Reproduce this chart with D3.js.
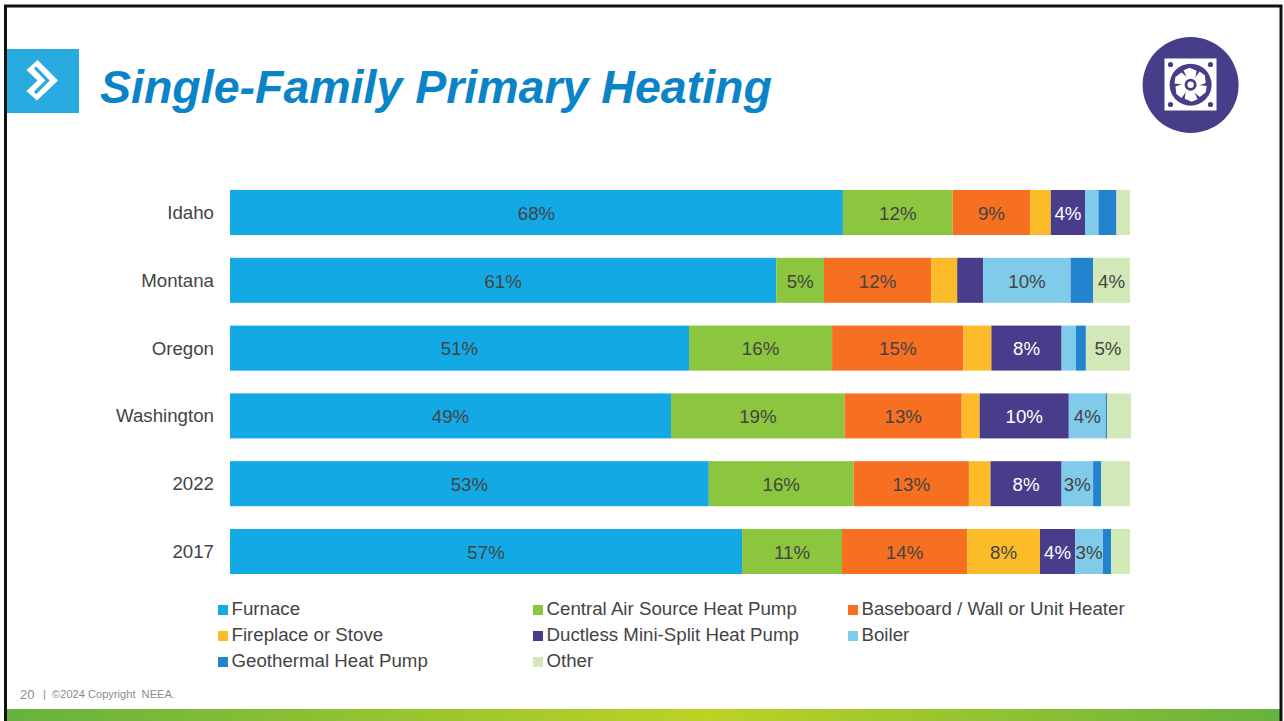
<!DOCTYPE html>
<html><head><meta charset="utf-8">
<script src="https://cdn.jsdelivr.net/npm/d3@7/dist/d3.min.js"></script>
<style>html,body{margin:0;padding:0;background:#fff;overflow:hidden}svg{display:block}text{font-family:"Liberation Sans",Arial,sans-serif}</style>
</head><body><svg id="c" width="1284" height="721"></svg>
<script>
const categories = ["Idaho","Montana","Oregon","Washington","2022","2017"];
const seriesNames = ["Furnace","Central Air Source Heat Pump","Baseboard / Wall or Unit Heater","Fireplace or Stove","Ductless Mini-Split Heat Pump","Boiler","Geothermal Heat Pump","Other"];
const furnace   = [68.1,60.7,51.0,49.0,53.2,56.9];
const airSource = [12.2, 5.3,15.9,19.3,16.1,11.1];
const baseboard = [ 8.6,11.9,14.6,13.0,12.8,13.9];
const fireplace = [ 2.3, 2.9, 3.1, 2.0, 2.4, 8.1];
const ductless  = [ 3.8, 2.9, 7.8, 9.9, 7.9, 3.9];
const boiler    = [ 1.5, 9.7, 1.6, 4.1, 3.5, 3.1];
const geothermal= [ 2.0, 2.5, 1.1, 0.15,0.9, 0.9];
const other     = [ 1.5, 4.1, 4.9, 2.65,3.2, 2.1];
const labels = [
  ["68%","61%","51%","49%","53%","57%"],
  ["12%","5%","16%","19%","16%","11%"],
  ["9%","12%","15%","13%","13%","14%"],
  ["","","","","","8%"],
  ["4%","","8%","10%","8%","4%"],
  ["","10%","","4%","3%","3%"],
  ["","","","","",""],
  ["","4%","5%","","",""]
];
const allSeries = [furnace,airSource,baseboard,fireplace,ductless,boiler,geothermal,other];
const colors = ["#12a9e5","#8cc63f","#f76f20","#fcbb29","#483d8b","#80cbea","#2284cf","#d2e8b7"];
const labelColors = ["#444444","#444444","#444444","#444444","#ffffff","#444444","#444444","#444444"];
const gradientStops = [["0%","#66b23f"],["55%","#bdd225"],["100%","#66b23f"]];
const titleText = "Single-Family Primary Heating";
const footerPage = "20";
const footerText = "|  ©2024 Copyright  NEEA.";

const svg = d3.select("#c");
const defs = svg.append("defs");
const grad = defs.append("linearGradient").attr("id","band");
grad.selectAll("stop").data(gradientStops).join("stop").attr("offset",d=>d[0]).attr("stop-color",d=>d[1]);

// slide furniture
svg.append("rect").attr("x",6).attr("y",709).attr("width",1275).attr("height",12).attr("fill","url(#band)");
svg.append("rect").attr("x",5.5).attr("y",6).attr("width",1275.5).attr("height",720).attr("fill","none").attr("stroke","#111").attr("stroke-width",3);

// logo
svg.append("rect").attr("x",7).attr("y",49).attr("width",72).attr("height",64).attr("fill","#29abe2");
svg.append("path").attr("d","M37.5 60 L58 80.5 L37 100.5 L26.5 91 L37.5 80.5 L26.5 70 Z").attr("fill","#fff");
svg.append("path").attr("d","M35 67.5 L47.5 80.5 L35 93").attr("fill","none").attr("stroke","#29abe2").attr("stroke-width",3.2);

// icon
const iconX = 1190.6, iconY = 84.7;
svg.append("circle").attr("cx",iconX).attr("cy",85).attr("r",48).attr("fill","#473e8a");
svg.append("rect").attr("x",1164.5).attr("y",58.5).attr("width",52).attr("height",52).attr("fill","#fff");
svg.append("circle").attr("cx",iconX).attr("cy",iconY).attr("r",21).attr("fill","#473e8a");
[[1170.5,64.5],[1210.5,64.5],[1170.5,104.5],[1210.5,104.5]].forEach(p=>svg.append("circle").attr("cx",p[0]).attr("cy",p[1]).attr("r",2.6).attr("fill","#473e8a"));
d3.range(6).forEach(i=>svg.append("path").attr("d","M-2 -3 L-7 -14.5 L-1 -17 L6 -14 L4 -3 Z").attr("fill","#fff").attr("transform",`translate(${iconX},${iconY}) rotate(${i*60})`));
svg.append("circle").attr("cx",iconX).attr("cy",iconY).attr("r",6).attr("fill","#473e8a");
svg.append("circle").attr("cx",iconX).attr("cy",iconY).attr("r",3.2).attr("fill","#fff");

// title
svg.append("text").attr("x",100).attr("y",103).attr("font-size",46.5).attr("font-weight","bold").attr("font-style","italic").attr("fill","#0a84c6").text(titleText);

// scales
const x = d3.scaleLinear().domain([0,100]).range([230,1130]);
const y = d3.scaleBand().domain(categories).range([190,574]).paddingInner(0.336);

// category axis
const axis = svg.append("g").attr("transform","translate(230,0.5)").call(d3.axisLeft(y).tickSize(0).tickPadding(16));
axis.select(".domain").remove();
axis.selectAll("text").attr("font-size",18.7).attr("fill","#444444").style("font-family",'"Liberation Sans",Arial,sans-serif');

// stacks
const rows = categories.map((c,i)=>{const o={cat:c};seriesNames.forEach((s,j)=>o[s]=allSeries[j][i]);return o;});
const stacked = d3.stack().keys(seriesNames)(rows);
stacked.forEach((layer,j)=>{
  const g = svg.append("g").attr("fill",colors[j]);
  g.selectAll("rect").data(layer).join("rect")
    .attr("x",d=>x(d[0])).attr("width",d=>x(d[1])-x(d[0]))
    .attr("y",d=>y(d.data.cat)).attr("height",y.bandwidth());
});
stacked.forEach((layer,j)=>{
  svg.append("g").selectAll("text").data(layer).join("text")
    .attr("x",d=>(x(d[0])+x(d[1]))/2)
    .attr("y",d=>y(d.data.cat)+y.bandwidth()/2+7.2)
    .attr("text-anchor","middle").attr("font-size",18.7).attr("fill",labelColors[j])
    .text((d,i)=>labels[j][i]);
});

// legend
const legendX = d3.scalePoint().domain([0,1,2]).range([218,848]);
const legendY = d3.scalePoint().domain([0,1,2]).range([609,661]);
const leg = svg.append("g").selectAll("g").data(seriesNames).join("g")
  .attr("transform",(d,i)=>`translate(${legendX(i%3)},${legendY(Math.floor(i/3))})`);
leg.append("rect").attr("x",0).attr("y",-4).attr("width",10).attr("height",10).attr("fill",(d,i)=>colors[i]);
leg.append("text").attr("x",13.5).attr("y",6).attr("font-size",18.7).attr("fill","#444444").text(d=>d);

// footer
svg.append("text").attr("x",20).attr("y",699).attr("font-size",13).attr("fill","#8c8c8c").text(footerPage);
svg.append("text").attr("x",43).attr("y",698).attr("font-size",11.1).attr("fill","#8c8c8c").style("white-space","pre").text(footerText);
</script></body></html>
